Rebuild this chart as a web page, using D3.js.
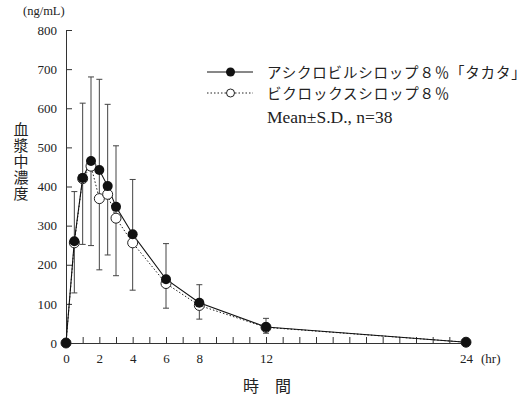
<!DOCTYPE html>
<html>
<head>
<meta charset="utf-8">
<script src="https://cdn.jsdelivr.net/npm/d3@7"></script>
<style>
  body { margin: 0; background: #fff; }
  svg { display: block; }
  .axis path, .axis line { stroke: #333; }
  .jp { font-family: "Noto Sans CJK JP", sans-serif; fill: #222; }
  .serif { font-family: "Liberation Serif", serif; fill: #222; }
</style>
</head>
<body>
<svg id="chart"></svg>
<script>
// sampling times (hr)
const times = [0, 0.5, 1, 1.5, 2, 2.5, 3, 4, 6, 8, 12, 24];
// アシクロビルシロップ8%「タカタ」 mean and S.D. (drawn upward)
const meanA = [0, 260, 422, 465, 442, 401, 348, 278, 163, 103, 41, 2];
const sdA   = [0, 127, 191, 215, 232, 209, 156, 140, 91, 46, 22, 0];
// ビクロックスシロップ8% mean and S.D. (drawn downward)
const meanB = [0, 256, 420, 452, 369, 380, 319, 256, 152, 96, 40, 2];
const sdB   = [0, 128, 168, 203, 182, 155, 147, 121, 63, 35, 15, 0];

const xTickLabels = [0, 2, 4, 6, 8, 12, 24];
const yTicks = [0, 100, 200, 300, 400, 500, 600, 700, 800];
const legendLabels = ["アシクロビルシロップ８％「タカタ」", "ビクロックスシロップ８％"];

const width = 527, height = 398;
const svg = d3.select("#chart").attr("width", width).attr("height", height);

const x = d3.scaleLinear().domain([0, 24]).range([66, 466]);
const y = d3.scaleLinear().domain([0, 800]).range([343, 30]);

const rows = times.map((t, i) => ({t, a: meanA[i], sa: sdA[i], b: meanB[i], sb: sdB[i]}));

// axes
const yAxisG = svg.append("g")
    .attr("class", "axis")
    .attr("transform", `translate(${x(0)},0)`)
    .call(d3.axisLeft(y).tickValues(yTicks).tickSize(-6).tickPadding(9).tickSizeOuter(0));

const xAxisG = svg.append("g")
    .attr("class", "axis")
    .attr("transform", `translate(0,${y(0)})`)
    .call(d3.axisBottom(x).tickValues(d3.range(0, 25))
      .tickFormat(d => xTickLabels.includes(d) ? d : "")
      .tickSize(-6).tickPadding(11).tickSizeOuter(0));

[yAxisG, xAxisG].forEach(g => g
    .attr("font-family", "Liberation Serif, serif")
    .attr("font-size", 13)
    .selectAll("text").attr("fill", "#222"));

// error bars: from B mean - SD to A mean + SD
const bars = svg.append("g").attr("stroke", "#444").attr("stroke-width", 1);
rows.filter(d => d.sa > 0 || d.sb > 0).forEach(d => {
  const top = y(d.a + d.sa), bot = y(d.b - d.sb), cx = x(d.t);
  bars.append("line").attr("x1", cx).attr("x2", cx).attr("y1", top).attr("y2", bot);
  bars.append("line").attr("x1", cx - 3).attr("x2", cx + 3).attr("y1", top).attr("y2", top);
  bars.append("line").attr("x1", cx - 3).attr("x2", cx + 3).attr("y1", bot).attr("y2", bot);
});

// lines
svg.append("path")
    .datum(rows)
    .attr("fill", "none").attr("stroke", "#222").attr("stroke-width", 1)
    .attr("stroke-dasharray", "1.5,2")
    .attr("d", d3.line().x(d => x(d.t)).y(d => y(d.b)));

svg.append("path")
    .datum(rows)
    .attr("fill", "none").attr("stroke", "#111").attr("stroke-width", 1.1)
    .attr("d", d3.line().x(d => x(d.t)).y(d => y(d.a)));

// markers
svg.append("g").selectAll("circle")
    .data(rows).join("circle")
    .attr("cx", d => x(d.t)).attr("cy", d => y(d.b)).attr("r", 5)
    .attr("fill", "#fff").attr("stroke", "#222").attr("stroke-width", 1);

svg.append("g").selectAll("circle")
    .data(rows).join("circle")
    .attr("cx", d => x(d.t)).attr("cy", d => y(d.a)).attr("r", 5)
    .attr("fill", "#111");

// unit labels
svg.append("text").attr("class", "serif").attr("x", 23).attr("y", 15)
    .attr("font-size", 12.5).text("(ng/mL)");
svg.append("text").attr("class", "serif").attr("x", 481).attr("y", 363)
    .attr("font-size", 13).text("(hr)");

// axis titles
svg.append("text").attr("class", "jp")
    .attr("x", 21).attr("y", 122)
    .style("writing-mode", "vertical-rl")
    .style("text-orientation", "upright")
    .attr("font-size", 15).attr("letter-spacing", 1)
    .text("血漿中濃度");

svg.append("text").attr("class", "jp")
    .attr("x", 267).attr("y", 392).attr("text-anchor", "middle")
    .attr("font-size", 16).text("時　間");

// legend
const legendY = [72, 93];
const lg = svg.append("g");
lg.append("line").attr("x1", 207).attr("x2", 253).attr("y1", legendY[0]).attr("y2", legendY[0])
    .attr("stroke", "#111");
lg.append("circle").attr("cx", 230.5).attr("cy", legendY[0]).attr("r", 4.5).attr("fill", "#111");
lg.append("line").attr("x1", 207).attr("x2", 253).attr("y1", legendY[1]).attr("y2", legendY[1])
    .attr("stroke", "#222").attr("stroke-dasharray", "1.5,2");
lg.append("circle").attr("cx", 230.5).attr("cy", legendY[1]).attr("r", 4)
    .attr("fill", "#fff").attr("stroke", "#222");
lg.selectAll("text.jp")
    .data(legendLabels).join("text")
    .attr("class", "jp")
    .attr("x", 267)
    .attr("y", (d, i) => legendY[i] + 5.5)
    .attr("font-size", 14.5)
    .attr("letter-spacing", 0.8)
    .text(d => d);
lg.append("text").attr("class", "serif")
    .attr("x", 267).attr("y", 123).attr("font-size", 17.5)
    .text("Mean±S.D., n=38");
</script>
</body>
</html>
